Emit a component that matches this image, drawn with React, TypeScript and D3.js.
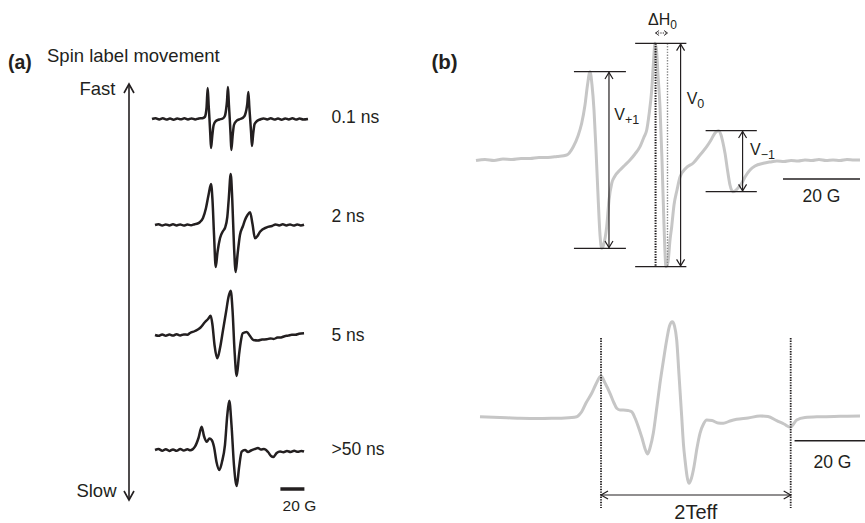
import React from "react";
import * as d3 from "d3";

type Pt = [number, number];

// ---------- Panel (a): field (G) vs derivative amplitude (a.u.) ----------
const rowLabels = ["0.1 ns", "2 ns", "5 ns", ">50 ns"];

const spec01: Pt[] = [
  [-65, 0], [-62, 0.8], [-59, -0.4], [-56, 0.7], [-53, -0.6], [-50, 0.5], [-47, -0.7], [-44, 0.6], [-41, -0.3],
  [-38, 0.7], [-35, -0.5], [-32, 0.6], [-29, -0.4], [-26, 0.5], [-23, 0.8],
  [-21, 2], [-20.2, 5], [-19.5, 12], [-18.6, 31], [-17.8, 14], [-17.1, 0], [-16.4, -16], [-15.8, -29], [-14.8, -17],
  [-13.6, -6], [-11.8, -2], [-9, -0.5], [-6, 0.5], [-4.3, 3],
  [-3.2, 10], [-2.5, 18], [-1.7, 32], [-0.9, 14], [-0.2, 0], [0.5, -16], [1.1, -31], [2.1, -18], [3.3, -6], [5.3, -2],
  [8.5, 0], [11, 1.5], [12.5, 4],
  [13.6, 9], [14.4, 15], [15.3, 27], [16.1, 12], [16.8, 0], [17.6, -14], [18.3, -27], [19.3, -15], [20.5, -5], [22.5, -2],
  [25, -0.5], [28, 0.6], [31, -0.5], [34, 0.7], [37, -0.6], [40, 0.5], [43, -0.7], [46, 0.6], [49, -0.4], [52, 0.7],
  [55, -0.6], [58, 0.5], [61, -0.5], [65, 0],
];

const spec2: Pt[] = [
  [-62.5, 0], [-59.5, 0.7], [-56.5, -0.6], [-53.5, 0.6], [-50.5, -0.5], [-47.5, 0.7], [-44.5, -0.4], [-41.5, 0.6],
  [-38.5, -0.6], [-35.5, 0.5], [-32.5, -0.3], [-29.5, 0.8], [-27, 1.5],
  [-25, 3], [-22.5, 7], [-20, 17], [-17.9, 30], [-15.8, 41], [-14.6, 25], [-13.3, -10], [-11.9, -42], [-10.4, -27],
  [-8.3, -13], [-5.8, -6], [-4.2, -3], [-2.25, 8], [-1.1, 25], [0.6, 51], [1.9, 25], [3.3, -20], [4.75, -47],
  [6.25, -30], [8.3, -10], [10.8, -1], [12.5, 5], [14.6, 10], [16.7, 12.7], [18.75, 1], [20.8, -13.3], [22.9, -11],
  [25, -6.7], [30.6, -2.3], [35, -1],
  [38, 0.6], [41, -0.5], [44, 0.7], [47, -0.4], [50, 0.6], [53, -0.6], [56, 0.5], [59, -0.4], [61.7, 0.3],
];

const spec5: Pt[] = [
  [-62.5, 0], [-59.5, -0.8], [-56.5, 0.6], [-53.5, -0.7], [-50.5, 0.5], [-47.5, -0.6], [-44.5, 0.8], [-41.5, -0.5],
  [-38.5, 0.6], [-35.5, 0.3],
  [-33.3, 2], [-29.2, 4], [-25, 7], [-20.8, 13], [-18.3, 16], [-16.1, 19.3], [-14.6, 10], [-12.9, -10], [-10.6, -23.3],
  [-8.3, -13], [-5.8, 5], [-3.3, 23], [-1.25, 38], [0.6, 44.3], [2.1, 25], [3.75, -15], [5.6, -41], [7.5, -20],
  [9.2, -5], [10.6, 1.7], [13.9, 3], [16.7, -1], [19.4, -5], [23.3, -5.5], [26.7, -4.5], [30.6, -4.3],
  [33.5, -3.4], [36.5, -3.9], [39.5, -2.6], [42.5, -2.4], [45.5, -1.2], [48.5, -0.6], [51.5, 0.3], [54.5, 0.2],
  [57.5, 1.2], [61.7, 1.7],
];

const spec50: Pt[] = [
  [-62.5, 0], [-59.5, 0.9], [-56.5, -0.7], [-53.5, 0.8], [-50.5, -0.9], [-47.5, 0.6], [-44.5, -0.8], [-41.5, 1],
  [-38.5, -0.6], [-35.5, 0.7], [-33, -0.3],
  [-29.2, 3.3], [-26.25, 12], [-23.6, 23.3], [-21.7, 14], [-19.4, 8.3], [-17.1, 11.5], [-15.25, 10], [-13.3, 3],
  [-11.25, -12], [-8.9, -20], [-6.7, -12], [-4.2, 5], [-2.25, 35], [-0.6, 49.3], [1.25, 25], [3.3, -15], [5.6, -36],
  [7.5, -18], [9.75, -1.7], [12.5, 0], [15, -2], [17.5, -0.5], [20.8, 1], [23.3, 2], [25.8, 0.5], [28.3, 1],
  [31.7, -2], [34.2, -6], [36.1, -7], [38.9, -3], [41.7, -1.5],
  [44.5, -2.3], [47.5, -1], [50.5, -2], [53.5, -0.8], [56.5, -1.8], [59.5, -0.9], [61.7, -1.5],
];

const spectraA: Pt[][] = [spec01, spec2, spec5, spec50];

// ---------- Panel (b) ----------
const specTop: Pt[] = [
  [-47.74, -0.5], [-45.4, 0.5], [-43.06, -0.5], [-40.73, 1], [-38.39, 0.5], [-36.05, 1.5], [-33.71, 1.5], [-31.38, 2.5],
  [-29.04, 2.5], [-26.7, 3.5], [-24.18, 5], [-22.47, 13.3], [-21.25, 24], [-20.29, 36.7], [-19.43, 55], [-18.78, 75],
  [-18.13, 88.3], [-17.61, 75], [-17.09, 50], [-16.57, 10], [-16.05, -35], [-15.53, -75], [-15.09, -88.3],
  [-14.62, -85], [-13.79, -66.7], [-13.19, -40], [-12.49, -23.3], [-11.64, -16], [-10.34, -10], [-9.04, -5],
  [-7.74, 0], [-6.44, 6], [-5.14, 13.3], [-4.1, 23], [-3.4, 30], [-2.81, 45], [-2.1, 70], [-1.64, 98],
  [-1.25, 116.7], [-0.86, 110], [-0.47, 85], [0.05, 53.3], [0.57, 0], [1.09, -65], [1.61, -106.7], [2.13, -102],
  [2.65, -80], [3.09, -66.7], [3.69, -45], [4.47, -30], [5.25, -17], [6.81, -8], [8.7, -3], [10.44, 5],
  [12.18, 13.3], [13.3, 20], [14.34, 27], [15.19, 29.3], [15.9, 25], [16.42, 17], [16.94, 6.7], [17.58, -10],
  [18.23, -25], [18.94, -31.7], [19.53, -31], [20.31, -28], [21.27, -23.3], [22.13, -17], [23.43, -10],
  [24.73, -6], [26.88, -3.3], [28.62, -2], [30.44, -1], [32.26, -1.5], [34.08, -0.5], [35.9, -1], [37.71, 0],
  [39.53, -0.5], [41.35, 0.5], [43.17, -0.5], [44.99, 0], [46.81, -0.5], [48.62, 0.5], [50.44, 0], [52, 0],
];

const specBottom: Pt[] = [
  [-46.7, 0], [-41.51, -0.8], [-36.31, -1.6], [-31.12, -1.8], [-27.66, -1.6], [-24.62, -1.3], [-21.58, 0],
  [-20.86, 2.2], [-20.29, 5], [-19.17, 13.7], [-17.69, 23.4], [-16.57, 32.7], [-15.27, 40.7], [-14.23, 33.7],
  [-12.94, 23.4], [-11.9, 13.7], [-11.19, 8.4], [-10.34, 6.7], [-9.48, 6.7], [-8.26, 6.2], [-7.3, 5],
  [-6.44, -1.3], [-5.58, -10], [-4.62, -21.3], [-3.71, -33.3], [-3.14, -37.3], [-2.55, -31.3], [-1.69, -16.6],
  [-0.86, 6.7], [0.05, 33.4], [0.96, 56.7], [1.79, 76.7], [2.52, 90.7], [3.25, 95], [3.82, 90.7], [4.39, 76.7],
  [4.99, 41.7], [5.69, 0], [6.16, -28.3], [6.55, -43.3], [7.58, -66.6], [8.23, -61.3], [8.88, -50], [9.66, -31.3],
  [10.44, -16.6], [11.35, -7.3], [12.18, -3.3], [13.56, -3.8], [15.12, -6.3], [16.49, -6.6], [18.23, -4.3],
  [19.97, -2.6], [22.91, -1.3], [26.03, 0.7], [28.1, 0.2], [30.36, -4], [32.26, -7.3], [34.0, -10.6],
  [34.73, -7.3], [35.56, -3.3], [37.71, -0.8], [41.61, 0], [46.81, 0.4], [52, 0.7],
];

// peak-to-peak windows (G) for V+1, V0, V-1
const vWindows: [number, number][] = [[-25, -8], [-8, 8], [8, 30]];
const vNames = ["V", "V", "V"];
const vSubs = ["+1", "0", "\u22121"];
const deltaH0: [number, number] = [-1.1, 2.0];
const twoTeff: [number, number] = [-15.27, 34.0];
const scaleBarG = 20;

const FONT = "'Liberation Sans', Arial, Helvetica, sans-serif";
const INK = "#231f20";
const GRAYLINE = "#c6c6c6";

function head(tx: number, ty: number, ux: number, uy: number, len: number, hw: number) {
  const bx = tx - ux * len, by = ty - uy * len;
  const px = -uy, py = ux;
  return `M${bx + px * hw},${by + py * hw}L${tx},${ty}L${bx - px * hw},${by - py * hw}`;
}

export default function App() {
  // ---- panel (a) scales ----
  const xA = d3.scaleLinear().domain([-65, 65]).range([152, 308]);
  const rowBase = [119, 225, 335, 450];
  const rowLabelY = [123, 222, 341, 455];
  const yA = (b: number) => d3.scaleLinear().domain([-60, 60]).range([b + 60, b - 60]);

  // ---- panel (b) scales ----
  const xB = d3.scaleLinear().domain([-48, 52]).range([475, 860]);
  const yTop = d3.scaleLinear().domain([-120, 120]).range([280, 40]);
  const yBot = d3.scaleLinear().domain([-120, 120]).range([536.7, 296.7]);

  const lineA = (ys: d3.ScaleLinear<number, number>) =>
    d3.line<Pt>().x((d) => xA(d[0])).y((d) => ys(d[1])).curve(d3.curveMonotoneX);
  const lineTop = d3.line<Pt>().x((d) => xB(d[0])).y((d) => yTop(d[1])).curve(d3.curveMonotoneX);
  const lineBot = d3.line<Pt>().x((d) => xB(d[0])).y((d) => yBot(d[1])).curve(d3.curveMonotoneX);

  // extrema for V markers
  const vExt = vWindows.map(([a, b]) => {
    const pts = specTop.filter((d) => d[0] >= a && d[0] <= b);
    return [d3.max(pts, (d) => d[1]) as number, d3.min(pts, (d) => d[1]) as number];
  });
  const vSpan: [number, number][] = [[-22.3, -8.8], [-6.4, 6.9], [11.9, 25.2]];
  const vArrowG = [-13.2, 5.4, 21.5];
  const vLabelPos: [number, number][] = [[614.3, 120], [686.7, 103.5], [750, 155]];

  const axisX = 129;
  const axisTop = 84;
  const axisBot = 500;

  const teffY = 495;

  return (
    <svg
      width={865}
      height={523}
      style={{ position: "absolute", left: 0, top: 0, background: "#fff", display: "block" }}
      fontFamily={FONT}
    >
      <rect x={0} y={0} width={865} height={523} fill="#fff" />

      {/* ---------------- Panel (a) ---------------- */}
      <text x={8} y={69} fontSize={19.5} fontWeight="bold" fill={INK}>(a)</text>
      <text x={47} y={61.5} fontSize={18.5} fill={INK}>Spin label movement</text>
      <text x={115.5} y={95} fontSize={18.5} fill={INK} textAnchor="end">Fast</text>
      <text x={116.5} y={497} fontSize={18.5} fill={INK} textAnchor="end">Slow</text>

      <line x1={axisX} y1={axisTop} x2={axisX} y2={axisBot} stroke={INK} strokeWidth={1.6} />
      <path d={head(axisX, axisTop, 0, -1, 9, 5)} fill="none" stroke={INK} strokeWidth={1.6} />
      <path d={head(axisX, axisBot, 0, 1, 9, 5)} fill="none" stroke={INK} strokeWidth={1.6} />

      {spectraA.map((s, i) => (
        <g key={i}>
          <path
            d={lineA(yA(rowBase[i]))(s) || ""}
            fill="none"
            stroke={INK}
            strokeWidth={2.5}
            strokeLinejoin="round"
          />
          <text x={331.5} y={rowLabelY[i]} fontSize={17.5} fill={INK}>{rowLabels[i]}</text>
        </g>
      ))}

      <line x1={xA(42)} x2={xA(42 + scaleBarG)} y1={489} y2={489} stroke={INK} strokeWidth={3.5} />
      <text x={(xA(42) + xA(42 + scaleBarG)) / 2 + 7} y={511} fontSize={15.5} fill={INK} textAnchor="middle">
        {scaleBarG} G
      </text>

      {/* ---------------- Panel (b) ---------------- */}
      <text x={431.5} y={69} fontSize={20.5} fontWeight="bold" fill={INK}>(b)</text>

      <path d={lineTop(specTop) || ""} fill="none" stroke={GRAYLINE} strokeWidth={3} strokeLinejoin="round" />

      {/* delta H0 dotted lines */}
      <line
        x1={xB(deltaH0[0])} x2={xB(deltaH0[0])}
        y1={yTop(vExt[1][0])} y2={yTop(vExt[1][1])}
        stroke={INK} strokeWidth={2} strokeDasharray="1.4,1.2"
      />
      <line
        x1={xB(deltaH0[1])} x2={xB(deltaH0[1])}
        y1={yTop(vExt[1][0])} y2={yTop(vExt[1][1])}
        stroke="#8a8a8a" strokeWidth={1.4} strokeDasharray="1.4,1.4"
      />
      <line
        x1={xB(deltaH0[0])} x2={xB(deltaH0[1])} y1={33} y2={33}
        stroke={INK} strokeWidth={1} strokeDasharray="1.2,1.2"
      />
      <path d={head(xB(deltaH0[0]), 33, -1, 0, 3.5, 2.5)} fill="none" stroke={INK} strokeWidth={0.9} />
      <path d={head(xB(deltaH0[1]), 33, 1, 0, 3.5, 2.5)} fill="none" stroke={INK} strokeWidth={0.9} />
      <text x={648} y={25} fontSize={16} fill={INK}>
        ΔH<tspan fontSize={12} dy={3.5}>0</tspan>
      </text>

      {/* V markers */}
      {vExt.map(([mx, mn], i) => {
        const ax = xB(vArrowG[i]);
        const yt = yTop(mx);
        const yb = yTop(mn);
        return (
          <g key={"v" + i}>
            <line x1={xB(vSpan[i][0])} x2={xB(vSpan[i][1])} y1={yt} y2={yt} stroke={INK} strokeWidth={1.2} />
            <line x1={xB(vSpan[i][0])} x2={xB(vSpan[i][1])} y1={yb} y2={yb} stroke={INK} strokeWidth={1.2} />
            <line x1={ax} x2={ax} y1={yt + 0.5} y2={yb - 0.5} stroke={INK} strokeWidth={1.2} />
            <path d={head(ax, yt + 0.8, 0, -1, 6.5, 4)} fill="none" stroke={INK} strokeWidth={1.2} />
            <path d={head(ax, yb - 0.8, 0, 1, 6.5, 4)} fill="none" stroke={INK} strokeWidth={1.2} />
            <text x={vLabelPos[i][0]} y={vLabelPos[i][1]} fontSize={16} fill={INK}>
              {vNames[i]}
              <tspan fontSize={12.5} dy={4}>{vSubs[i]}</tspan>
            </text>
          </g>
        );
      })}

      <line x1={xB(32)} x2={xB(32 + scaleBarG)} y1={179} y2={179} stroke={INK} strokeWidth={1.6} />
      <text x={(xB(32) + xB(32 + scaleBarG)) / 2} y={201.5} fontSize={17.5} fill={INK} textAnchor="middle">
        {scaleBarG} G
      </text>

      {/* bottom spectrum */}
      <path d={lineBot(specBottom) || ""} fill="none" stroke={GRAYLINE} strokeWidth={3} strokeLinejoin="round" />
      {twoTeff.map((g, i) => (
        <line
          key={"t" + i}
          x1={xB(g)} x2={xB(g)} y1={338} y2={508}
          stroke={INK} strokeWidth={1.8} strokeDasharray="1.4,1.2"
        />
      ))}
      <line x1={xB(twoTeff[0])} x2={xB(twoTeff[1])} y1={teffY} y2={teffY} stroke={INK} strokeWidth={1.2} />
      <path d={head(xB(twoTeff[0]), teffY, -1, 0, 7, 4)} fill="none" stroke={INK} strokeWidth={1.2} />
      <path d={head(xB(twoTeff[1]), teffY, 1, 0, 7, 4)} fill="none" stroke={INK} strokeWidth={1.2} />
      <text x={(xB(twoTeff[0]) + xB(twoTeff[1])) / 2} y={519} fontSize={20} fill={INK} textAnchor="middle">
        2Teff
      </text>

      <line x1={xB(35)} x2={xB(35 + scaleBarG)} y1={440.7} y2={440.7} stroke={INK} strokeWidth={1.6} />
      <text x={832.5} y={468} fontSize={17.5} fill={INK} textAnchor="middle">
        {scaleBarG} G
      </text>
    </svg>
  );
}
